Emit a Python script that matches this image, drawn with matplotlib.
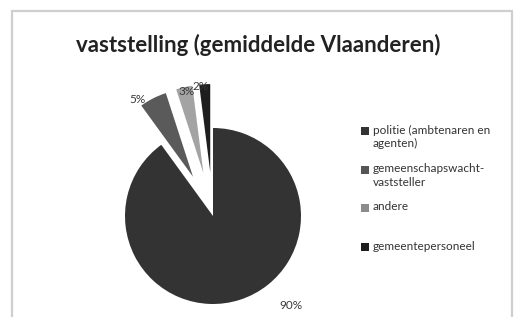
import matplotlib
matplotlib.use("Agg")
import matplotlib.pyplot as plt
from matplotlib.patches import Rectangle

# gegevens
categories = ["politie (ambtenaren en\nagenten)", "gemeenschapswacht-\nvaststeller", "andere", "gemeentepersoneel"]
shares = [90, 5, 3, 2]
colors = ["#333333", "#5a5a5a", "#a3a3a3", "#1e1e1e"]
legend_colors = ["#333333", "#555555", "#8c8c8c", "#1e1e1e"]
explode = [0, 0.5, 0.5, 0.5]

W, H = 515, 317
fig = plt.figure(figsize=(W / 100, H / 100), dpi=100)

# kader rond de grafiek
fig.add_artist(Rectangle((12 / W, -0.05), 500 / W, 1.05 - 11 / H, transform=fig.transFigure,
                         fill=False, edgecolor="#cfcfcf", lw=1.6))

fig.text(258 / W, 1 - 45 / H, "vaststelling (gemiddelde Vlaanderen)", ha="center", va="center",
         fontsize=16, fontweight="bold", family="Lato", color="#222222")

# taart: middelpunt (213, 216) px, straal 88 px
r = 88
a = 2.0
ax = fig.add_axes([(213 - a * r) / W, (H - 216 - a * r) / H, 2 * a * r / W, 2 * a * r / H])
wedges, texts, autotexts = ax.pie(shares, colors=colors, explode=explode, startangle=90,
                                  counterclock=False, autopct=lambda p: f"{p:.0f}%",
                                  pctdistance=1.12, wedgeprops=dict(linewidth=0),
                                  textprops=dict(fontsize=8.5, family="Lato", color="#3a3a3a"))
ax.set_xlim(-a, a)
ax.set_ylim(-a, a)
ax.set_aspect("equal")
ax.axis("off")

# labels buiten de taart zoals in Excel
autotexts[0].set_position((0.88, -1.02))
autotexts[1].set_position((-0.86, 1.32))
autotexts[2].set_position((-0.30, 1.41))
autotexts[3].set_position((-0.14, 1.47))

# legende
legend_y = [131, 170, 208, 247]
for lab, col, y in zip(categories, legend_colors, legend_y):
    fig.add_artist(Rectangle((361 / W, 1 - (y + 4) / H), 8 / W, 8 / H, transform=fig.transFigure,
                             facecolor=col, edgecolor="none"))
    fig.text(373 / W, 1 - (y - 6.5) / H, lab, ha="left", va="top", fontsize=8.5, family="Lato",
             color="#333333", linespacing=1.3)

fig.savefig("out.png", dpi=100)
